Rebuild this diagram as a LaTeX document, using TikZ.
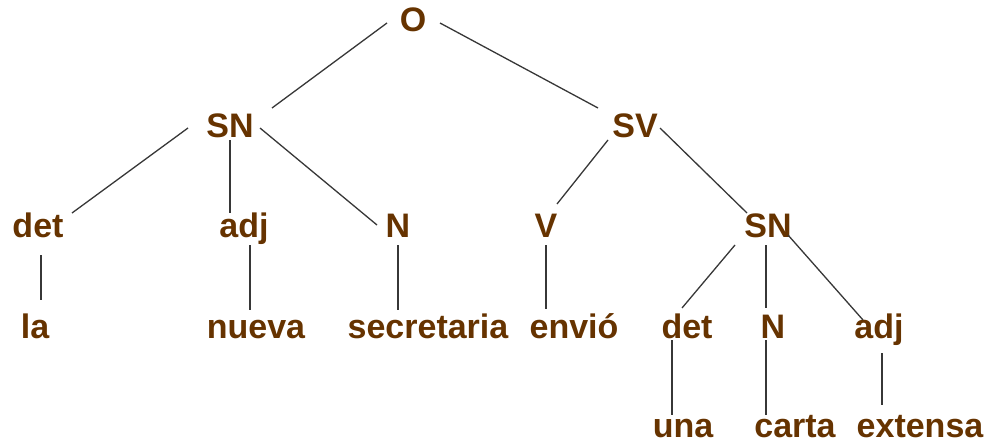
\documentclass[tikz,border=0pt]{standalone}
\usepackage{fontspec}
\setmainfont{Liberation Sans}
\definecolor{wordbrown}{RGB}{102,51,0}
\definecolor{branchgray}{RGB}{55,55,55}
\begin{document}
\begin{tikzpicture}[x=1pt,y=-1pt,
  lbl/.style={anchor=base,inner sep=0pt,text=wordbrown,
    font=\fontsize{34}{40}\selectfont\bfseries},
  branch/.style={draw=branchgray,line width=1.3pt}]
\useasboundingbox (0,0) rectangle (990,444);

% level 0
\node[lbl] (O) at (413,32) {O};
% level 1
\node[lbl] (SN) at (230,137) {SN};
\node[lbl] (SV) at (635,137) {SV};
% level 2
\node[lbl] (det) at (38,237) {det};
\node[lbl] (adj) at (244,237) {adj};
\node[lbl] (N) at (398,237) {N};
\node[lbl] (V) at (546,237) {V};
\node[lbl] (SNb) at (768,237) {SN};
% level 3
\node[lbl] (la) at (35,338) {la};
\node[lbl] (nueva) at (256,338) {nueva};
\node[lbl] (secretaria) at (428,338) {secretaria};
\node[lbl] (envio) at (574,338) {envió};
\node[lbl] (detb) at (687,338) {det};
\node[lbl] (Nb) at (773,338) {N};
\node[lbl] (adjb) at (879,338) {adj};
% level 4
\node[lbl] (una) at (683,437) {una};
\node[lbl] (carta) at (795,437) {carta};
\node[lbl] (extensa) at (920,437) {extensa};

% branches
\draw[branch] ([shift={(-26,-9)}]O.base) -- ([shift={(42,-29)}]SN.base);
\draw[branch] ([shift={(27,-9)}]O.base) -- ([shift={(-37,-29)}]SV.base);
\draw[branch] ([shift={(-42,-9)}]SN.base) -- ([shift={(34,-24)}]det.base);
\draw[branch] ([shift={(0,3)}]SN.base) -- ([shift={(-14,-24)}]adj.base);
\draw[branch] ([shift={(30,-9)}]SN.base) -- ([shift={(-21,-12)}]N.base);
\draw[branch] ([shift={(-27,3)}]SV.base) -- ([shift={(11,-33)}]V.base);
\draw[branch] ([shift={(25,-9)}]SV.base) -- ([shift={(-21,-24)}]SNb.base);
\draw[branch] ([shift={(-33,8)}]SNb.base) -- ([shift={(-5,-30)}]detb.base);
\draw[branch] ([shift={(-2,8)}]SNb.base) -- ([shift={(-7,-30)}]Nb.base);
\draw[branch] ([shift={(20,-2)}]SNb.base) -- ([shift={(-16,-18)}]adjb.base);
\draw[branch] ([shift={(0,8)}]V.base) -- ([shift={(-28,-29)}]envio.base);
\draw[branch] ([shift={(3,18)}]det.base) -- ([shift={(6,-38)}]la.base);
\draw[branch] ([shift={(6,8)}]adj.base) -- ([shift={(-6,-28)}]nueva.base);
\draw[branch] ([shift={(0,8)}]N.base) -- ([shift={(-30,-28)}]secretaria.base);
\draw[branch] ([shift={(-15,2)}]detb.base) -- ([shift={(-11,-22)}]una.base);
\draw[branch] ([shift={(-7,2)}]Nb.base) -- ([shift={(-29,-22)}]carta.base);
\draw[branch] ([shift={(3,15)}]adjb.base) -- ([shift={(-38,-32)}]extensa.base);
\end{tikzpicture}
\end{document}
